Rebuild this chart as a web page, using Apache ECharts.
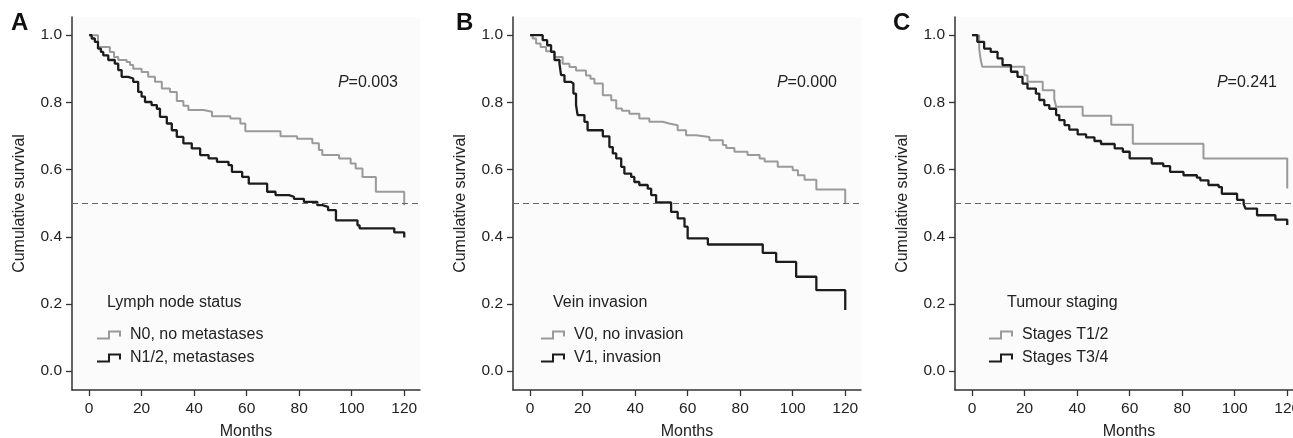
<!DOCTYPE html>
<html>
<head>
<meta charset="utf-8">
<script src="https://cdn.jsdelivr.net/npm/echarts@6/dist/echarts.min.js"></script>
<style>html,body{margin:0;padding:0;background:#fff;overflow:hidden}#c{width:1293px;height:438px}</style>
</head>
<body>
<div id="c"></div>
<script>
// ---- data: [month, cumulative survival] at each step ----
const panelLetters = ['A', 'B', 'C'];
const pValues = ['=0.003', '=0.000', '=0.241'];
const legendTitles = ['Lymph node status', 'Vein invasion', 'Tumour staging'];
const groupNamesA = ['N0, no metastases', 'N1/2, metastases'];
const groupNamesB = ['V0, no invasion', 'V1, invasion'];
const groupNamesC = ['Stages T1/2', 'Stages T3/4'];
const xTicks = [0, 20, 40, 60, 80, 100, 120];
const yTicks = [0, 0.2, 0.4, 0.6, 0.8, 1.0];

const nodeN0 = [[0,1.0],[3.4,0.965],[7.9,0.95],[9.5,0.935],[11.1,0.926],[14.3,0.92],[15.6,0.911],[16.8,0.9],[20,0.89],[22.5,0.876],[25.1,0.861],[27.7,0.841],[30.8,0.831],[33.4,0.804],[35.9,0.79],[37.8,0.777],[43.6,0.772],[46.8,0.759],[53.8,0.752],[57.6,0.737],[59.5,0.714],[72.9,0.699],[79.2,0.692],[85,0.678],[87.5,0.658],[88.8,0.643],[95.2,0.633],[99.6,0.618],[101.5,0.603],[104.1,0.578],[109.2,0.534],[120,0.494]];
const nodeN12 = [[0,1.0],[1,0.99],[2.2,0.98],[3.4,0.96],[4.5,0.95],[5.4,0.94],[7.3,0.926],[9.8,0.915],[11.1,0.896],[12.4,0.876],[14.9,0.871],[16.8,0.861],[18.7,0.831],[20,0.817],[21.3,0.801],[23.8,0.792],[25.8,0.781],[27,0.757],[29.6,0.737],[31.5,0.717],[33.4,0.697],[35.9,0.678],[39.1,0.663],[42.3,0.643],[45.5,0.633],[48.7,0.623],[53.1,0.613],[54.4,0.593],[58.3,0.578],[60.8,0.558],[67.8,0.534],[71,0.524],[76.1,0.519],[78,0.513],[81.8,0.504],[86.9,0.494],[88.8,0.489],[91,0.479],[94,0.449],[102.2,0.434],[103,0.425],[116.2,0.413],[120,0.398]];
const veinV0 = [[0,1.0],[1,0.99],[2.3,0.975],[4,0.965],[6.1,0.952],[9.3,0.935],[12.4,0.915],[15,0.905],[17.5,0.895],[21.3,0.88],[23,0.87],[24.5,0.856],[27.7,0.821],[30.9,0.806],[32.8,0.782],[35,0.775],[37.8,0.766],[41.6,0.752],[45.4,0.742],[50.5,0.737],[53,0.732],[56.2,0.717],[59.4,0.702],[63.2,0.697],[68.3,0.687],[73.4,0.673],[74.7,0.664],[77.8,0.653],[82.8,0.643],[87.4,0.633],[89.3,0.624],[94.3,0.608],[100,0.598],[102,0.583],[104.5,0.57],[109,0.541],[120,0.5]];
const veinV1 = [[0,1.0],[4.8,0.985],[6.5,0.97],[8,0.95],[9.3,0.926],[11.2,0.915],[11.8,0.881],[13.1,0.861],[15.6,0.856],[16.5,0.826],[17.5,0.792],[18.1,0.762],[20.7,0.742],[21.9,0.717],[27.7,0.699],[30.2,0.667],[31.5,0.648],[32.8,0.633],[34.7,0.608],[35.9,0.588],[38.5,0.578],[39.7,0.563],[41.6,0.554],[44.8,0.543],[46.1,0.524],[48,0.502],[53.7,0.474],[56.2,0.455],[58.8,0.43],[60,0.395],[67.7,0.377],[88.6,0.352],[93.7,0.325],[101.3,0.281],[109,0.241],[120,0.182]];
const stageT12 = [[0,1.0],[2.7,0.96],[3.3,0.926],[3.9,0.906],[19.9,0.881],[21.1,0.861],[26.9,0.836],[31.3,0.811],[32,0.787],[42.1,0.76],[53,0.733],[61.2,0.677],[88.1,0.633],[120,0.544]];
const stageT34 = [[0,1.0],[2,0.98],[4.6,0.96],[7.1,0.95],[9.7,0.931],[11.6,0.911],[14.8,0.891],[17.3,0.876],[19.2,0.856],[21.1,0.841],[24.3,0.826],[25.6,0.807],[27.5,0.792],[29.4,0.781],[32,0.762],[33.2,0.747],[35.2,0.732],[37,0.719],[40.2,0.705],[43.4,0.696],[46.6,0.685],[49.1,0.676],[54.3,0.663],[57.4,0.653],[60,0.633],[68.4,0.618],[72.8,0.61],[75.4,0.593],[80.5,0.583],[85.6,0.576],[86.9,0.568],[90,0.554],[93.9,0.548],[95.1,0.528],[100.9,0.51],[103.4,0.497],[104.1,0.484],[108.5,0.464],[115.5,0.451],[120,0.435]];

const panels = [
  {names: groupNamesA, light: nodeN0, dark: nodeN12},
  {names: groupNamesB, light: veinV0, dark: veinV1},
  {names: groupNamesC, light: stageT12, dark: stageT34}
];

// ---- layout / style ----
const gridLefts = [72, 513, 955];
const gridTop = 17, gridH = 373, gridW = 348;
const legendLeft = [92, 536, 984];
const legendTitleLeft = [107, 553, 1007];
const letterLeft = [11, 456, 893];
const pRight = [398, 837, 1277];
const FONT = '"Liberation Sans", Arial, Helvetica, sans-serif';
const TXT = '#222';
const AX = '#333';
const LIGHT = '#9a9a9a', DARK = '#1c1c1c';
const stepIcon = 'path://M0,7 L11,7 L11,0 L24,0 L24,6 L22,6 L22,2 L13,2 L13,9 L0,9 Z';

const grid = [], xAxis = [], yAxis = [], series = [], legend = [], graphic = [];
panels.forEach((p, i) => {
  grid.push({left: gridLefts[i], top: gridTop, width: gridW, height: gridH,
    outerBoundsMode: 'none', containLabel: false,
    show: true, backgroundColor: '#fbfbfb', borderWidth: 0});
  xAxis.push({type: 'value', gridIndex: i, min: -6.5, max: 126,
    name: 'Months', nameLocation: 'middle', nameGap: 34,
    nameTextStyle: {fontFamily: FONT, fontSize: 16, color: TXT},
    axisLine: {show: true, onZero: false, lineStyle: {color: AX, width: 1.5}},
    axisTick: {show: true, length: 6, lineStyle: {color: AX, width: 1.3}, customValues: xTicks},
    axisLabel: {fontFamily: FONT, fontSize: 15.5, color: TXT, margin: 11, customValues: xTicks},
    splitLine: {show: false}});
  yAxis.push({type: 'value', gridIndex: i, min: -0.056, max: 1.054,
    name: 'Cumulative survival', nameLocation: 'middle', nameGap: 44,
    nameTextStyle: {fontFamily: FONT, fontSize: 16, color: TXT},
    axisLine: {show: true, onZero: false, lineStyle: {color: AX, width: 1.5}},
    axisTick: {show: true, length: 6, lineStyle: {color: AX, width: 1.3}, customValues: yTicks},
    axisLabel: {fontFamily: FONT, fontSize: 15.5, color: TXT, margin: 10, customValues: yTicks,
      formatter: v => v.toFixed(1)},
    splitLine: {show: false}});
  series.push({type: 'line', name: p.names[0], xAxisIndex: i, yAxisIndex: i, step: 'end',
    data: p.light, showSymbol: false, symbol: 'none', animation: false,
    lineStyle: {color: LIGHT, width: 2}, itemStyle: {color: LIGHT},
    markLine: {silent: true, symbol: ['none', 'none'], label: {show: false},
      lineStyle: {color: '#666', type: [6, 4], width: 1}, data: [{yAxis: 0.5}], animation: false}});
  series.push({type: 'line', name: p.names[1], xAxisIndex: i, yAxisIndex: i, step: 'end',
    data: p.dark, showSymbol: false, symbol: 'none', animation: false,
    lineStyle: {color: DARK, width: 2.3}, itemStyle: {color: DARK}});
  legend.push({data: p.names, left: legendLeft[i], top: 322, orient: 'vertical',
    icon: stepIcon, itemWidth: 24, itemHeight: 9, itemGap: 7, selectedMode: false,
    textStyle: {fontFamily: FONT, fontSize: 16, color: TXT, padding: [0, 0, 0, 4]}});
  graphic.push({type: 'text', left: letterLeft[i], top: 11,
    style: {text: panelLetters[i], font: 'bold 24px ' + FONT, fill: '#111'}});
  graphic.push({type: 'text', right: 1293 - pRight[i], top: 75,
    style: {text: '{i|P}' + pValues[i], font: '16px ' + FONT, fill: TXT,
      rich: {i: {fontStyle: 'italic', fontFamily: FONT, fontSize: 16, fill: TXT}}}});
  graphic.push({type: 'text', left: legendTitleLeft[i], top: 295,
    style: {text: legendTitles[i], font: '16px ' + FONT, fill: TXT}});
});

const chart = echarts.init(document.getElementById('c'), null, {renderer: 'canvas'});
chart.setOption({animation: false, backgroundColor: '#fff', grid, xAxis, yAxis, series, legend, graphic});
</script>
</body>
</html>
